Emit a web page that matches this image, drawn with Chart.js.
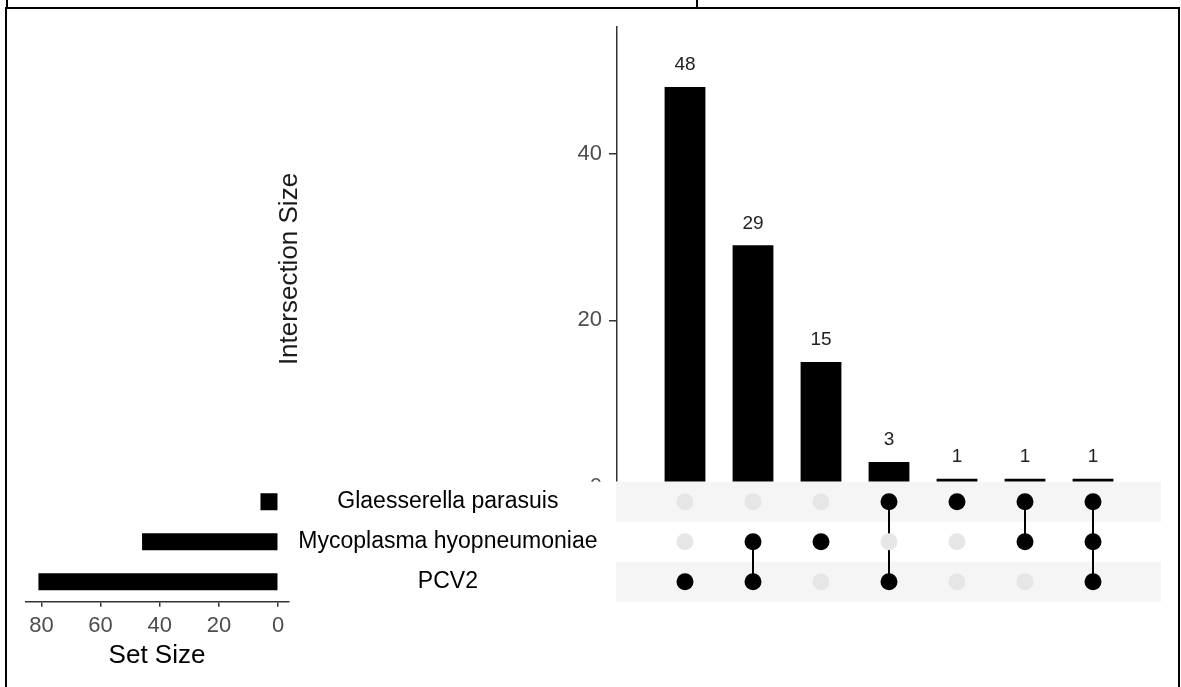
<!DOCTYPE html>
<html>
<head>
<meta charset="utf-8">
<title>UpSet plot</title>
<script src="https://cdn.jsdelivr.net/npm/chart.js@4.4.1/dist/chart.umd.min.js"></script>
<style>
  html, body { margin: 0; padding: 0; background: #fff; overflow: hidden; }
  #page { position: relative; width: 1181px; height: 687px; }
  #page canvas { position: absolute; left: 0; top: 0; }
  #frame { position: absolute; left: 5px; top: 7px; width: 1171px; height: 700px; border: 2px solid #000; border-bottom: none; }
  .cut { position: absolute; top: 0; width: 2px; height: 8px; background: #000; }
</style>
</head>
<body>
<div id="page">
  <div id="frame"></div>
  <div class="cut" style="left:6px"></div>
  <div class="cut" style="left:696px"></div>
  <canvas id="intersectionChart" width="1181" height="687"></canvas>
  <canvas id="matrixChart" width="1181" height="687"></canvas>
  <canvas id="setSizeChart" width="1181" height="687"></canvas>
</div>
<script>
// data
const setNames = ['Glaesserella parasuis', 'Mycoplasma hyopneumoniae', 'PCV2'];
const setSizes = [6, 46, 81];
const setSizeTicks = [0, 20, 40, 60, 80];
const intersectionSizes = [48, 29, 15, 3, 1, 1, 1];
const intersectionSets = [
    ['PCV2'],
    ['Mycoplasma hyopneumoniae', 'PCV2'],
    ['Mycoplasma hyopneumoniae'],
    ['Glaesserella parasuis', 'PCV2'],
    ['Glaesserella parasuis'],
    ['Glaesserella parasuis', 'Mycoplasma hyopneumoniae'],
    ['Glaesserella parasuis', 'Mycoplasma hyopneumoniae', 'PCV2']
];
const intersectionTicks = [0, 20, 40];

const FONT = '"Liberation Sans", Arial, sans-serif';
const AXIS = '#333333';

// labels on top of the intersection bars
const barLabels = {
    id: 'barLabels',
    afterDatasetsDraw(chart) {
        const ctx = chart.ctx;
        const meta = chart.getDatasetMeta(0);
        ctx.save();
        ctx.font = '19px ' + FONT;
        ctx.fillStyle = '#222';
        ctx.textAlign = 'center';
        ctx.textBaseline = 'middle';
        meta.data.forEach((bar, i) => ctx.fillText(String(intersectionSizes[i]), bar.x, bar.y - 22));
        ctx.restore();
    }
};

// the y title sits far from the axis in the original
const sideTitle = {
    id: 'sideTitle',
    afterDraw(chart) {
        const ctx = chart.ctx;
        ctx.save();
        ctx.translate(290, 269);
        ctx.rotate(-Math.PI / 2);
        ctx.font = '26px ' + FONT;
        ctx.fillStyle = '#1a1a1a';
        ctx.textAlign = 'center';
        ctx.textBaseline = 'middle';
        ctx.fillText('Intersection Size', 0, 0);
        ctx.restore();
    }
};

new Chart(document.getElementById('intersectionChart'), {
    type: 'bar',
    data: {
        datasets: [{
            data: intersectionSizes.map((v, i) => ({ x: i + 1, y: v })),
            backgroundColor: '#000',
            categoryPercentage: 1,
            barPercentage: 0.6
        }]
    },
    options: {
        responsive: false,
        animation: false,
        devicePixelRatio: 1,
        layout: { padding: { left: 517, right: 20, top: 27, bottom: 200 } },
        plugins: { legend: { display: false }, tooltip: { enabled: false } },
        scales: {
            x: { type: 'linear', min: 0, max: 8, offset: false, display: false },
            y: {
                min: 0,
                max: 55.2,
                afterBuildTicks(s) { s.ticks = intersectionTicks.map(v => ({ value: v })); },
                afterFit(s) { s.width = 100; },
                grid: { drawOnChartArea: false, tickLength: 8, color: AXIS, lineWidth: 1.5 },
                border: { color: AXIS, width: 1.5 },
                ticks: { padding: 7, color: '#4d4d4d', font: { family: FONT, size: 22 } }
            }
        }
    },
    plugins: [barLabels, sideTitle]
});

// matrix of dots
const inactiveDots = [];
intersectionSets.forEach((members, i) => {
    setNames.forEach(s => {
        if (!members.includes(s)) inactiveDots.push({ x: i + 1, y: s });
    });
});
const activeSets = intersectionSets.map((members, i) => ({
    data: setNames.filter(s => members.includes(s)).map(s => ({ x: i + 1, y: s })),
    showLine: true,
    borderColor: '#000',
    borderWidth: 2,
    pointRadius: 8.5,
    pointBackgroundColor: '#000',
    pointBorderWidth: 0
}));

const matrixShade = {
    id: 'matrixShade',
    beforeDatasetsDraw(chart) {
        const { ctx, chartArea: a, scales: { y } } = chart;
        const h = (a.bottom - a.top) / setNames.length;
        ctx.save();
        ctx.fillStyle = '#fff';
        ctx.fillRect(540, a.top, a.right - 540, a.bottom - a.top + 2);
        ctx.fillStyle = '#f5f5f5';
        setNames.forEach((s, i) => {
            if (i % 2 === 0) {
                const c = y.getPixelForValue(i);
                ctx.fillRect(a.left - 1, c - h / 2, a.right - a.left + 1, h);
            }
        });
        ctx.restore();
    }
};

new Chart(document.getElementById('matrixChart'), {
    type: 'scatter',
    data: {
        datasets: [{
            data: inactiveDots,
            pointRadius: 8.5,
            pointBackgroundColor: '#e6e6e6',
            pointBorderWidth: 0
        }].concat(activeSets)
    },
    options: {
        responsive: false,
        animation: false,
        devicePixelRatio: 1,
        layout: { padding: { left: 617, right: 20, top: 481.7, bottom: 85.3 } },
        plugins: { legend: { display: false }, tooltip: { enabled: false } },
        scales: {
            x: { type: 'linear', min: 0, max: 8, display: false },
            y: { type: 'category', labels: setNames, offset: true, display: false }
        }
    },
    plugins: [matrixShade]
});

// set sizes, bars grow to the left
new Chart(document.getElementById('setSizeChart'), {
    type: 'bar',
    data: {
        labels: setNames,
        datasets: [{
            data: setSizes,
            backgroundColor: '#000',
            categoryPercentage: 1,
            barPercentage: 0.425
        }]
    },
    options: {
        indexAxis: 'y',
        responsive: false,
        animation: false,
        devicePixelRatio: 1,
        layout: { padding: { left: 25.7, right: 562.7, top: 481.7, bottom: 15.6 } },
        plugins: { legend: { display: false }, tooltip: { enabled: false } },
        scales: {
            x: {
                reverse: true,
                min: -3.4,
                max: 85.3,
                afterBuildTicks(s) { s.ticks = setSizeTicks.map(v => ({ value: v })); },
                afterFit(s) { s.height = 69.7; },
                grid: { drawOnChartArea: false, tickLength: 5, color: AXIS, lineWidth: 1.5 },
                border: { color: AXIS, width: 1.5 },
                ticks: { padding: 6.5, color: '#4d4d4d', font: { family: FONT, size: 22 } },
                title: { display: true, text: 'Set Size', color: '#000', padding: 0, font: { family: FONT, size: 26 } }
            },
            y: {
                position: 'right',
                afterFit(s) { s.width = 330; },
                grid: { display: false },
                border: { display: false },
                ticks: { crossAlign: 'center', padding: 2, color: '#000', font: { family: FONT, size: 23 } }
            }
        }
    }
});
</script>
</body>
</html>
